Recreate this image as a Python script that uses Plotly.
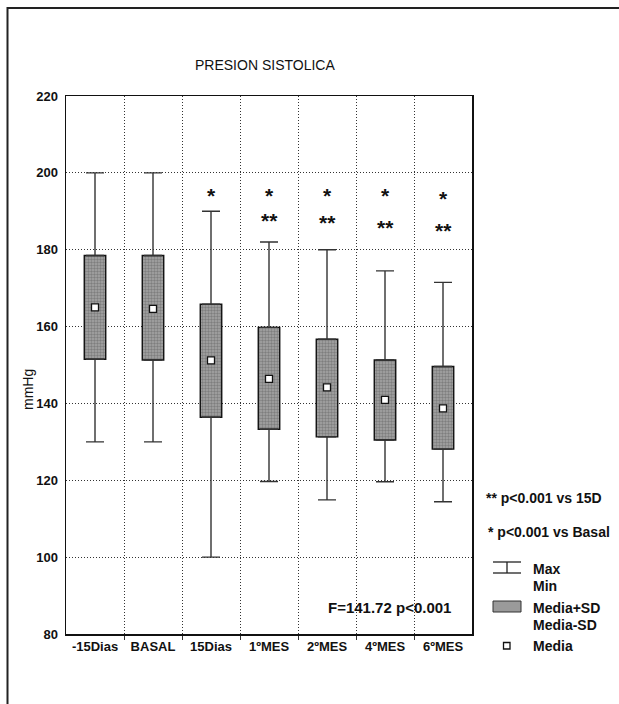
import plotly.graph_objects as go

# ---- data ----
categories = ["-15Dias", "BASAL", "15Dias", "1\u00baMES", "2\u00baMES", "4\u00baMES", "6\u00baMES"]
max_vals = [200, 200, 190, 182, 180, 174.5, 171.5]
mean_plus_sd = [178.5, 178.5, 165.8, 159.8, 156.7, 151.3, 149.6]
mean_vals = [165, 164.6, 151.2, 146.4, 144.2, 140.9, 138.7]
mean_minus_sd = [151.5, 151.3, 136.4, 133.3, 131.3, 130.5, 128.1]
min_vals = [130, 130, 100, 119.7, 114.9, 119.6, 114.4]

star1_labels = ["", "", "*", "*", "*", "*", "*"]
star1_y = [None, None, 195.5, 195.5, 195.4, 195.4, 194.5]
star2_labels = ["", "", "", "**", "**", "**", "**"]
star2_y = [None, None, None, 188.9, 188.3, 187.2, 186.4]

y_ticks = [80, 100, 120, 140, 160, 180, 200, 220]

FONT = "Liberation Sans, Arial, sans-serif"
W, H = 619, 704
L, R, T, B = 66, 472, 96, 634   # plot area in px


def px(xp):
    return (xp - L) / (R - L)


def py(yp):
    return (B - yp) / (B - T)


xs = list(range(len(categories)))
fig = go.Figure()

# boxes (Media-SD .. Media+SD)
fig.add_trace(go.Bar(
    x=xs,
    base=mean_minus_sd,
    y=[u - l for u, l in zip(mean_plus_sd, mean_minus_sd)],
    width=0.37,
    marker=dict(color="#9a9a9a",
                line=dict(color="#111", width=1.4),
                pattern=dict(shape=".", fgcolor="#555", bgcolor="#a6a6a6",
                             size=3, solidity=0.5)),
    showlegend=False, hoverinfo="skip",
))

# upper whiskers
fig.add_trace(go.Scatter(
    x=xs, y=mean_plus_sd, mode="markers",
    marker=dict(size=1, color="rgba(0,0,0,0)"),
    error_y=dict(type="data", symmetric=False,
                 array=[m - u for m, u in zip(max_vals, mean_plus_sd)],
                 arrayminus=[0] * len(xs),
                 color="#333", thickness=1.4, width=9),
    showlegend=False, hoverinfo="skip",
))
# lower whiskers
fig.add_trace(go.Scatter(
    x=xs, y=mean_minus_sd, mode="markers",
    marker=dict(size=1, color="rgba(0,0,0,0)"),
    error_y=dict(type="data", symmetric=False,
                 array=[0] * len(xs),
                 arrayminus=[l - m for l, m in zip(mean_minus_sd, min_vals)],
                 color="#333", thickness=1.4, width=9),
    showlegend=False, hoverinfo="skip",
))
# means
fig.add_trace(go.Scatter(
    x=xs, y=mean_vals, mode="markers",
    marker=dict(symbol="square", size=7, color="white",
                line=dict(color="#111", width=1.3)),
    showlegend=False, hoverinfo="skip",
))

GRID_DASH = "1px,2px"
fig.update_layout(
    width=W, height=H,
    margin=dict(l=L, r=W - R, t=T, b=H - B, pad=0),
    paper_bgcolor="white", plot_bgcolor="white",
    font=dict(family=FONT, color="#111"),
    bargap=0,
    xaxis=dict(
        range=[-0.5, len(categories) - 0.5],
        tickmode="array", tickvals=xs, ticktext=categories,
        tickfont=dict(family=FONT, size=13, color="#111", weight="bold"),
        ticks="", showgrid=False, zeroline=False,
        showline=True, linecolor="#111", linewidth=1.5, mirror=True,
        minor=dict(tickmode="array",
                   tickvals=[i + 0.5 for i in xs[:-1]],
                   showgrid=True, gridcolor="#333", griddash=GRID_DASH, gridwidth=1,
                   ticks="outside", ticklen=4, tickcolor="#333"),
        fixedrange=True,
    ),
    yaxis=dict(
        range=[80, 220], tickmode="array", tickvals=y_ticks,
        tickfont=dict(family=FONT, size=13, color="#111", weight="bold"),
        ticks="", ticklabelstandoff=4,
        showgrid=True, gridcolor="#333", griddash=GRID_DASH, gridwidth=1,
        zeroline=False,
        showline=True, linecolor="#111", linewidth=1.5, mirror=True,
        fixedrange=True,
    ),
)

annotations = [
    dict(text="PRESION SISTOLICA", xref="paper", yref="paper",
         x=px(265), y=py(65), xanchor="center", yanchor="middle",
         showarrow=False, font=dict(family=FONT, size=14, color="#111")),
    dict(text="mmHg", xref="paper", yref="paper", textangle=-90,
         x=px(28), y=py(390), xanchor="center", yanchor="middle",
         showarrow=False, font=dict(family=FONT, size=14, color="#111")),
    dict(text="F=141.72 p<0.001", xref="paper", yref="paper",
         x=px(389), y=py(607), xanchor="center", yanchor="middle",
         showarrow=False, font=dict(family=FONT, size=15, color="#111", weight="bold")),
    dict(text="** p<0.001 vs 15D", xref="paper", yref="paper",
         x=px(484), y=py(498), xanchor="left", yanchor="middle",
         showarrow=False, font=dict(family=FONT, size=14, color="#111", weight="bold")),
    dict(text="* p<0.001 vs Basal", xref="paper", yref="paper",
         x=px(486), y=py(532), xanchor="left", yanchor="middle",
         showarrow=False, font=dict(family=FONT, size=14, color="#111", weight="bold")),
]
for label, ypix in [("Max", 569), ("Min", 586), ("Media+SD", 608),
                    ("Media-SD", 625), ("Media", 646)]:
    annotations.append(dict(text=label, xref="paper", yref="paper",
                            x=px(531), y=py(ypix), xanchor="left", yanchor="middle",
                            showarrow=False,
                            font=dict(family=FONT, size=14, color="#111", weight="bold")))
# significance stars (data coordinates)
for labels, yv in [(star1_labels, star1_y), (star2_labels, star2_y)]:
    for i, lab in enumerate(labels):
        if lab:
            annotations.append(dict(text=lab, x=xs[i], y=yv[i], xref="x", yref="y",
                                    xanchor="center", yanchor="middle", yshift=-5,
                                    showarrow=False,
                                    font=dict(family=FONT, size=21, color="#111",
                                              weight="bold")))
fig.update_layout(annotations=annotations)

shapes = [
    # outer frame (top and left visible)
    dict(type="rect", xref="paper", yref="paper",
         x0=px(7.5), x1=px(W + 20), y0=py(H + 20), y1=py(8),
         line=dict(color="#222", width=2), layer="below"),
    # legend: whisker symbol
    dict(type="line", xref="paper", yref="paper", x0=px(493), x1=px(521),
         y0=py(562), y1=py(562), line=dict(color="#222", width=1.3)),
    dict(type="line", xref="paper", yref="paper", x0=px(493), x1=px(521),
         y0=py(573), y1=py(573), line=dict(color="#222", width=1.3)),
    dict(type="line", xref="paper", yref="paper", x0=px(507), x1=px(507),
         y0=py(562), y1=py(573), line=dict(color="#222", width=1.3)),
    # legend: box symbol
    dict(type="rect", xref="paper", yref="paper", x0=px(493), x1=px(521),
         y0=py(612), y1=py(601), fillcolor="#9a9a9a",
         line=dict(color="#333", width=1)),
    # legend: mean symbol
    dict(type="rect", xref="paper", yref="paper", x0=px(503.5), x1=px(510),
         y0=py(649), y1=py(642.5), fillcolor="white",
         line=dict(color="#111", width=1.3)),
]
fig.update_layout(shapes=shapes)

fig.write_html(
    "out.html",
    config={"displayModeBar": False, "staticPlot": True},
    post_script="document.body.style.margin='0';document.body.style.overflow='hidden';",
)
